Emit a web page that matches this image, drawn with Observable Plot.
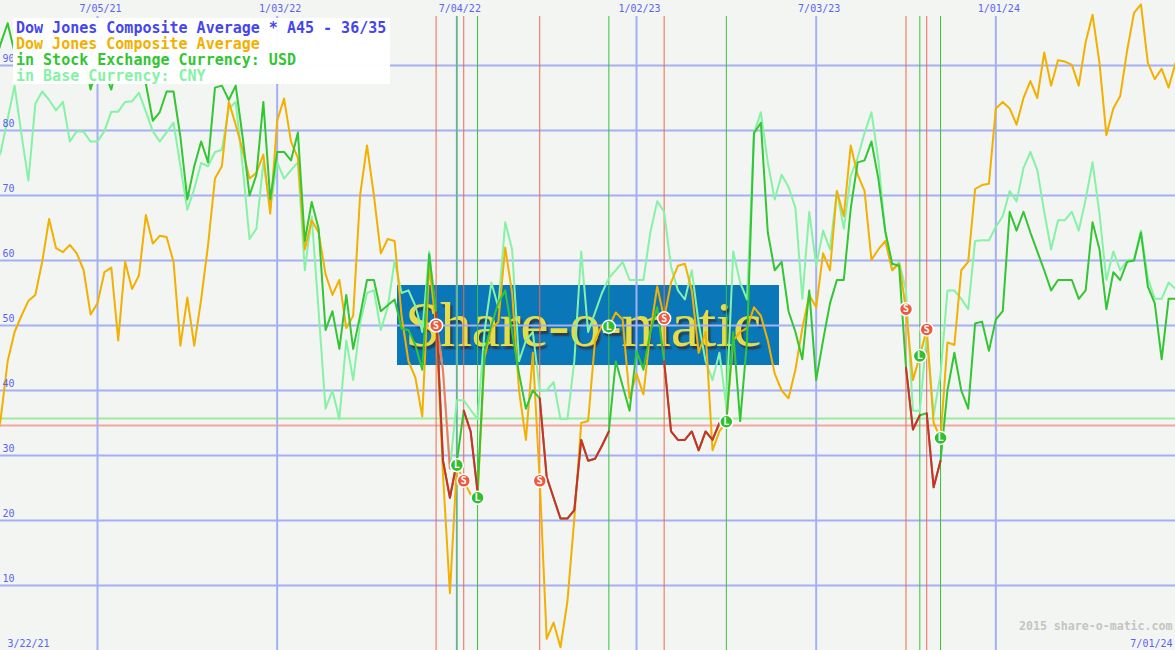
<!DOCTYPE html>
<html>
<head>
<meta charset="utf-8">
<script src="https://cdn.jsdelivr.net/npm/d3@7"></script>
<script src="https://cdn.jsdelivr.net/npm/@observablehq/plot@0.6"></script>
<style>
  html, body { margin: 0; padding: 0; background: #f3f5f2; }
  #wrap { position: relative; width: 1175px; height: 650px; overflow: hidden; }
  #wm { position: absolute; left: 397px; top: 285px; width: 382px; height: 80px; background: #0a78b8; z-index: 0; overflow: hidden; }
  #wm span { position: absolute; left: 8px; top: 4px; font-family: "Liberation Serif", "DejaVu Serif", serif; font-size: 64px; line-height: 72px; color: #e4dc48; text-shadow: 2px 3px 2px #2a3a50; letter-spacing: -0.5px; }
  #chart { position: absolute; left: 0; top: 0; z-index: 1; }
  #legend { position: absolute; left: 13px; top: 18px; width: 377px; height: 66px; background: rgba(255,255,255,0.96); z-index: 2; box-sizing: border-box; padding: 2px 0 0 3px; font-family: "DejaVu Sans Mono", monospace; font-size: 15px; line-height: 16px; font-weight: bold; white-space: pre; }
</style>
</head>
<body>
<div id="wrap">
  <div id="wm"><span>Share-o-matic</span></div>
  <div id="chart"></div>
  <div id="legend"></div>
</div>
<script>
// ---- data (weekly, starting 3/22/21) ----
const startDate = "2021-03-22";
const djca = [30,35.7,44.5,49,51.5,53.8,54.7,59.8,66.4,61.9,61.3,62.4,61.1,58.5,51.7,53.4,58.2,58.9,47.7,59.8,55.6,57.7,67.0,62.6,63.8,63.6,59.8,46.9,54.3,46.9,
54,62.4,72.6,74.5,84.4,80.9,77,72.6,73.5,76.3,67.2,81.5,84.9,78.3,75.8,61.7,66.2,64.3,57.9,54.7,57,49.6,51.5,70,77.7,70,61.1,63.3,63,51.5,
44.5,42,36,59.2,50,27,8.8,28.5,26.1,24,23.5,45,49.6,50.5,62,55,40,32.4,45.8,26.1,1.8,4.3,0.5,7.5,20.3,35,35.3,47.7,50,49.8,
52,50.9,38.8,42.6,39.4,49,56,51.1,56.6,59.2,59.5,55.4,45.8,49,30.8,33.7,35.2,47.7,49,49.6,52.8,51.5,47.7,42.6,40,38.8,43.2,49.6,54.7,52.8,
61.1,58.5,70.7,66.8,77.7,73.2,70.7,60.1,61.7,63,58.5,59.5,52.5,41.6,45.3,49.4,35,32.7,47.4,47,58.5,59.8,71,71.6,71.8,83.4,84.4,83.4,80.9,85,
87.6,85,92,86.9,90.8,90.6,90.1,86.9,93.6,97.8,90.4,79.3,83.4,85.3,92.3,98.1,99.4,90.4,87.9,89.5,86.6,90.4];
const usdSeries = [90,93.4,96.5,92,94,91,93,95,92,90,93,91,94,92,86.3,90,89,86.3,91,93,95,93,87.2,81.5,82.8,86,86,79,69.4,74.5,
78.3,75.1,86.6,86.9,84.7,86.9,79,70,73.2,84.4,69.4,76.7,76.7,75.4,79.7,63,69,64.9,49.3,52.2,46.4,54.7,46.4,51.5,57,57,52.2,53.1,54,49.5,
49.3,47,43.2,61,52,29.2,23.5,29,36.9,33.7,24.4,46,50,53.5,55.4,49,42.6,37.2,40,38.8,26.7,23.5,20.3,20.3,21.6,32.4,29.2,29.5,31.5,33.7,
44.5,40.7,36.9,46.1,43.2,49,52.8,44.5,33.7,32.4,32.4,33.7,30.8,33.7,32.4,35,35,49,35.3,47.7,79.6,81.2,64.3,58.5,59.8,52.2,49,44.8,55.4,41.6,
47.7,53.4,57,57,68,75.1,75.4,78.3,72.6,64.5,59.5,59.2,43.5,34,36.2,36.5,25.1,29.2,40,45.8,40,37.2,50.3,50.6,46.1,50.9,52.2,67.5,64.6,67.5,
64.3,61.4,58.5,55.4,57,57,57,54.1,55.4,65.9,61.7,52.5,58.2,57,59.8,60,64.3,56,53.4,44.8,54.1,54.1];
const cnySeries = [74,76.7,81.8,86.9,79.4,72.3,84.1,86,84.7,83.1,84.4,78.3,79.9,79.8,78.3,78.3,79.9,82.9,82.9,84.4,84.5,85.8,82.9,79.9,78.3,79.7,81.2,74.5,67.8,71,
75,74.5,76.7,77,83.4,84.4,74.5,63.3,64.9,75.1,68.1,75.1,72.6,73.9,75.1,58.5,66.8,52.2,37.2,40,35.6,47.7,41.6,50.3,55,55.4,49.3,52.8,60,55,
55.4,53,49,61.4,50.9,43,28,38.5,38.5,37,35.6,49,56.6,52.8,65.9,61.7,44.5,47.7,49,40,40,41.3,35.6,35.6,44.5,61.4,49,52,55,57.3,
58.5,59.8,57,57,57,64.3,69.1,67.5,59,55.4,54,58.5,50.3,44.5,41.6,45.8,37.5,61.4,56.6,54,79.6,82.8,75.1,69.4,73.2,71.3,68.1,54.1,67.5,59.2,
64.6,61.7,70.7,64.9,73,75.8,79.6,82.8,75.5,64.3,58.5,59.8,55.4,36.9,36.9,48.5,36.2,42.5,55.4,55.4,54.1,52.5,63,63.1,63.1,65.2,66.8,70.7,69.1,74.2,
76.7,73.9,67.5,61.7,66.2,66.2,67.5,64.6,69.4,75.1,67.2,57,61.4,58.5,60,60.1,64.6,57.3,54.1,54.1,56.6,55.6];

const sellDates = ["2022-06-13","2022-07-11","2022-09-26","2023-01-30","2023-10-02","2023-10-23"];
const buyDates  = ["2022-07-04","2022-07-25","2022-12-05","2023-04-03","2023-10-16","2023-11-06"];
const cnySellRange = ["2022-06-13","2022-06-27"];
const thresholdUpper = 35.7;   // "36"
const thresholdLower = 34.6;   // "35"

const yTicks = [10,20,30,40,50,60,70,80,90];
const xTickDates = ["2021-07-05","2022-01-03","2022-07-04","2023-01-02","2023-07-03","2024-01-01"];
const xTickLabels = ["7/05/21","1/03/22","7/04/22","1/02/23","7/03/23","1/01/24"];
const firstLabel = "3/22/21";
const lastLabel = "7/01/24";
const credit = "2015 share-o-matic.com";
const legendLines = [
  ["Dow Jones Composite Average * A45 - 36/35", "#4646ee"],
  ["Dow Jones Composite Average", "#f2b000"],
  ["in Stock Exchange Currency: USD", "#33c633"],
  ["in Base Currency: CNY", "#86f2a6"]
];

// ---- build tables ----
const DAY = 864e5;
const t0 = Date.parse(startDate + "T00:00:00Z");
const dates = djca.map((_, i) => new Date(t0 + i * 7 * DAY));
const rows = dates.map((d, i) => ({date: d, dj: djca[i], usd: usdSeries[i], cny: cnySeries[i]}));
const idxOf = s => Math.round((Date.parse(s + "T00:00:00Z") - t0) / (7 * DAY));

const redRows = [];
sellDates.forEach((s, k) => {
  const a = idxOf(s), b = idxOf(buyDates[k]);
  for (let i = a; i <= b; i++) redRows.push({...rows[i], seg: k});
});
const salmonRows = [];
for (let i = idxOf(cnySellRange[0]); i <= idxOf(cnySellRange[1]); i++) salmonRows.push(rows[i]);

const signals = [
  ...sellDates.map(s => ({...rows[idxOf(s)], kind: "S"})),
  ...buyDates.map(s => ({...rows[idxOf(s)], kind: "L"}))
];

const xStart = new Date(t0 + 0.963 * 7 * DAY);
const xEnd = dates[dates.length - 1];
const tickRows = xTickDates.map((s, i) => ({date: new Date(s + "T00:00:00Z"), label: xTickLabels[i]}));
const mono = "DejaVu Sans Mono, monospace";

const chart = Plot.plot({
  width: 1175,
  height: 650,
  margin: 0,
  style: {background: "transparent"},
  x: {type: "utc", domain: [xStart, xEnd], axis: null},
  y: {domain: [0, 100], axis: null},
  marks: [
    Plot.ruleY([thresholdUpper], {stroke: "#9fe89f", strokeWidth: 2}),
    Plot.ruleY([thresholdLower], {stroke: "#f4a6a2", strokeWidth: 2}),
    Plot.ruleY(yTicks, {stroke: "#a4b0f2", strokeWidth: 2}),
    Plot.ruleX(tickRows, {x: "date", stroke: "#a4b0f2", strokeWidth: 2, insetTop: 16}),
    Plot.ruleX(sellDates.map(s => new Date(s + "T00:00:00Z")), {stroke: "#f06850", strokeWidth: 1, insetTop: 16}),
    Plot.ruleX(buyDates.map(s => new Date(s + "T00:00:00Z")), {stroke: "#3cc03c", strokeWidth: 1, insetTop: 16}),
    Plot.line(rows, {x: "date", y: "cny", stroke: "#86f2a6", strokeWidth: 2, clip: true}),
    Plot.line(salmonRows, {x: "date", y: "cny", stroke: "#f47a64", strokeWidth: 2}),
    Plot.line(rows, {x: "date", y: "dj", stroke: "#f2b000", strokeWidth: 2, clip: true}),
    Plot.line(rows, {x: "date", y: "usd", stroke: "#33c633", strokeWidth: 2, clip: true}),
    Plot.line(redRows, {x: "date", y: "usd", z: "seg", stroke: "#d42c2c", strokeWidth: 2}),
    Plot.dot(signals, {x: "date", y: "dj", r: 6.5, fill: d => d.kind === "S" ? "#f0583c" : "#2fc02f", stroke: "white", strokeWidth: 1.5}),
    Plot.text(signals, {x: "date", y: "dj", text: "kind", fill: "white", fontSize: 10, fontWeight: "bold", fontFamily: mono}),
    Plot.text(tickRows, {x: "date", text: "label", frameAnchor: "top", lineAnchor: "top", dy: 4, dx: 3, fill: "#5a64f0", fontSize: 10, fontFamily: mono}),
    Plot.text(yTicks, {y: d => d, text: d => String(d), frameAnchor: "left", textAnchor: "start", dx: 2, dy: -7, fill: "#5a64f0", fontSize: 10, fontFamily: mono}),
    Plot.text([firstLabel], {frameAnchor: "bottom-left", textAnchor: "start", lineAnchor: "bottom", dx: 7, dy: -4, fill: "#5a64f0", fontSize: 10, fontFamily: mono}),
    Plot.text([lastLabel], {frameAnchor: "bottom-right", textAnchor: "end", lineAnchor: "bottom", dx: -3, dy: -4, fill: "#5a64f0", fontSize: 10, fontFamily: mono}),
    Plot.text([credit], {frameAnchor: "bottom-right", textAnchor: "end", lineAnchor: "bottom", dx: -3, dy: -21, fill: "#c4c4c4", fontSize: 11.6, fontWeight: "bold", fontFamily: mono})
  ]
});
document.getElementById("chart").appendChild(chart);

const legend = document.getElementById("legend");
legendLines.forEach(([t, c]) => {
  const div = document.createElement("div");
  div.textContent = t;
  div.style.color = c;
  legend.appendChild(div);
});
</script>
</body>
</html>
